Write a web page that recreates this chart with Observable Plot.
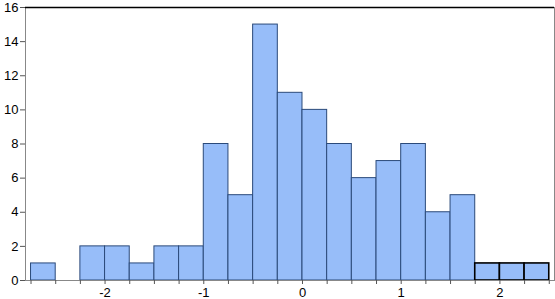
<!DOCTYPE html>
<html><head><meta charset="utf-8">
<script src="https://cdn.jsdelivr.net/npm/d3@7"></script>
<script src="https://cdn.jsdelivr.net/npm/@observablehq/plot@0.6"></script>
<style>body{margin:0;background:#fff}svg{display:block}</style>
</head><body><div id="chart"></div>
<script>
const binLo = [-2.75,-2.5,-2.25,-2,-1.75,-1.5,-1.25,-1,-0.75,-0.5,-0.25,0,0.25,0.5,0.75,1,1.25,1.5,1.75,2,2.25];
const binHi = [-2.5,-2.25,-2,-1.75,-1.5,-1.25,-1,-0.75,-0.5,-0.25,0,0.25,0.5,0.75,1,1.25,1.5,1.75,2,2.25,2.5];
const counts = [1,0,2,2,1,2,2,8,5,15,11,10,8,6,7,8,4,5,1,1,1];
const xTicks = [-2.75,-2.5,-2.25,-2,-1.75,-1.5,-1.25,-1,-0.75,-0.5,-0.25,0,0.25,0.5,0.75,1,1.25,1.5,1.75,2,2.25,2.5];
const xLabels = [-2,-1,0,1,2];
const yTicks = [0,2,4,6,8,10,12,14,16];

const bars = counts.map((c,i)=>({x1:binLo[i], x2:binHi[i], y:c, tail: binLo[i] >= 1.75}));
const xDomain = [-2.806, 2.553];

const chart = Plot.plot({
  width: 555, height: 299,
  marginLeft: 25, marginRight: 1, marginTop: 7, marginBottom: 19,
  style: {fontFamily: "'Liberation Sans', Arial, sans-serif", fontSize: "13px", background: "#fff"},
  x: {domain: xDomain},
  y: {domain: [0,16]},
  marks: [
    Plot.rectY(bars.filter(d=>d.y>0 && !d.tail), {x1:"x1", x2:"x2", y:"y", fill:"#97bdf9", stroke:"#2b4a7a", strokeWidth:1, inset:0}),
    Plot.rectY(bars.filter(d=>d.y>0 && d.tail), {x1:"x1", x2:"x2", y:"y", fill:"#97bdf9", stroke:"#000", strokeWidth:1.6, inset:0}),
    Plot.frame({stroke:"#888", strokeWidth:1}),
    Plot.ruleY([16], {stroke:"#000", strokeWidth:1.6}),
    Plot.axisY({ticks: yTicks, tickSize: 5, tickPadding: 2, label: null, stroke:"#555", color:"#000", fontSize:13}),
    Plot.axisX({ticks: xTicks, tickSize: 4, tickPadding: 3, label: null, tickFormat: d => xLabels.includes(d) ? String(d).replace("-", "-") : "", color:"#000", stroke:"#555", fontSize:13})
  ]
});
document.getElementById("chart").appendChild(chart);
</script></body></html>
